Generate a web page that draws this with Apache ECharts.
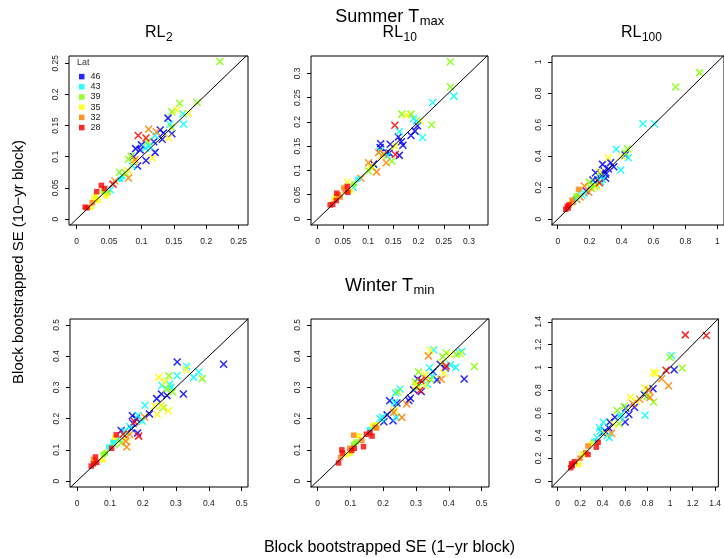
<!DOCTYPE html>
<html><head><meta charset="utf-8">
<script src="https://cdn.jsdelivr.net/npm/echarts@6/dist/echarts.min.js"></script>
<style>html,body{margin:0;padding:0;background:#fff}#c{width:724px;height:558px}</style>
</head><body><div id="c"></div><script>
// ---------------- data ----------------
const latLabels = ['46', '43', '39', '35', '32', '28'];
const latColors = ['#0000FF', '#00FFFF', '#80FF00', '#FFFF00', '#FF8000', '#FF0000'];

const rowTitles = [['Summer T', 'max'], ['Winter T', 'min']];
const panelTitles = [['RL', '2'], ['RL', '10'], ['RL', '100']];
const xTitle = 'Block bootstrapped SE (1\u2212yr block)';
const yTitle = 'Block bootstrapped SE (10\u2212yr block)';

// [x (1-yr block SE), y (10-yr block SE), latitude index]
const p1Cross = [
 [0.221,0.253,2],[0.159,0.186,2],[0.186,0.187,2],[0.147,0.172,2],[0.155,0.175,3],[0.164,0.169,1],
 [0.172,0.170,3],[0.165,0.152,1],[0.141,0.162,0],[0.144,0.152,1],[0.146,0.147,2],[0.142,0.130,3],
 [0.147,0.137,0],[0.134,0.138,0],[0.132,0.128,0],[0.129,0.143,0],[0.111,0.144,4],[0.123,0.140,4],
 [0.121,0.134,1],[0.095,0.134,5],[0.107,0.130,5],[0.119,0.124,0],[0.109,0.124,2],[0.100,0.119,0],
 [0.091,0.113,0],[0.098,0.111,0],[0.106,0.114,1],[0.121,0.107,0],[0.117,0.098,3],[0.107,0.094,0],
 [0.094,0.085,0],[0.088,0.100,0],[0.080,0.096,2],[0.084,0.101,2],[0.089,0.091,3],[0.086,0.085,1],
 [0.066,0.075,2],[0.076,0.073,2],[0.079,0.078,3],[0.080,0.066,4],[0.059,0.061,4],[0.056,0.056,5],
 [0.052,0.047,1],[0.070,0.070,1],[0.112,0.117,1],[0.090,0.095,4]
];
const p1Square = [
 [0.068,0.064,1],[0.038,0.054,5],[0.043,0.049,5],[0.045,0.037,3],[0.041,0.045,2],[0.029,0.037,3],
 [0.031,0.044,5],[0.027,0.032,3],[0.024,0.026,4],[0.016,0.018,5],[0.022,0.019,3],[0.013,0.019,5],
 [0.033,0.030,3],[0.048,0.042,2]
];
const p2Cross = [
 [0.263,0.324,2],[0.263,0.272,2],[0.270,0.253,1],[0.228,0.240,1],[0.167,0.216,2],[0.185,0.216,2],
 [0.176,0.214,3],[0.190,0.207,1],[0.196,0.202,1],[0.203,0.202,3],[0.226,0.194,2],[0.153,0.193,5],
 [0.198,0.192,0],[0.185,0.172,0],[0.193,0.181,0],[0.208,0.168,1],[0.162,0.180,1],[0.160,0.169,0],
 [0.125,0.155,0],[0.144,0.154,0],[0.166,0.159,0],[0.169,0.152,0],[0.124,0.147,0],[0.154,0.150,3],
 [0.137,0.137,0],[0.142,0.136,0],[0.154,0.133,5],[0.162,0.131,0],[0.121,0.137,4],[0.124,0.140,1],
 [0.127,0.130,3],[0.138,0.130,1],[0.136,0.116,4],[0.147,0.119,2],[0.101,0.116,4],[0.105,0.110,3],
 [0.101,0.099,2],[0.111,0.113,0],[0.117,0.097,4],[0.108,0.105,2],[0.086,0.084,4],[0.071,0.065,1],
 [0.059,0.076,3],[0.131,0.134,4]
];
const p2Square = [
 [0.080,0.082,1],[0.072,0.072,2],[0.052,0.064,4],[0.059,0.067,5],[0.065,0.058,3],[0.055,0.058,4],
 [0.038,0.053,5],[0.041,0.050,4],[0.060,0.055,5],[0.033,0.039,3],[0.037,0.038,5],[0.025,0.029,5],
 [0.030,0.030,5],[0.045,0.045,4],[0.035,0.045,3]
];
const p3Cross = [
 [0.889,0.932,2],[0.739,0.841,2],[0.534,0.607,1],[0.606,0.607,1],[0.367,0.444,1],[0.437,0.448,2],
 [0.425,0.420,2],[0.422,0.408,0],[0.442,0.390,1],[0.405,0.400,3],[0.395,0.312,1],[0.317,0.390,3],
 [0.331,0.359,0],[0.351,0.333,0],[0.281,0.348,0],[0.317,0.318,0],[0.291,0.306,0],[0.271,0.285,0],
 [0.300,0.285,0],[0.237,0.295,0],[0.262,0.300,3],[0.281,0.252,1],[0.221,0.248,0],[0.250,0.248,0],
 [0.300,0.260,0],[0.261,0.231,5],[0.268,0.238,1],[0.231,0.211,2],[0.197,0.235,2],[0.245,0.205,3],
 [0.177,0.180,0],[0.167,0.210,4],[0.167,0.165,1],[0.195,0.170,4],[0.140,0.140,4],[0.270,0.268,1],
 [0.240,0.220,1],[0.210,0.195,2],[0.150,0.155,1],[0.120,0.125,4]
];
const p3Square = [
 [0.130,0.189,4],[0.116,0.148,2],[0.110,0.130,1],[0.090,0.121,4],[0.095,0.105,4],[0.070,0.090,5],
 [0.080,0.095,3],[0.060,0.080,5],[0.050,0.062,5],[0.065,0.070,5],[0.100,0.110,1]
];
const p4Cross = [
 [0.445,0.374,0],[0.304,0.381,0],[0.333,0.367,1],[0.330,0.357,3],[0.370,0.349,1],[0.380,0.328,2],
 [0.354,0.332,1],[0.323,0.279,0],[0.304,0.337,1],[0.279,0.337,2],[0.248,0.332,3],[0.281,0.310,1],
 [0.258,0.306,1],[0.268,0.318,3],[0.272,0.295,2],[0.290,0.285,2],[0.273,0.274,0],[0.285,0.300,1],
 [0.256,0.279,0],[0.242,0.264,0],[0.256,0.242,3],[0.262,0.235,2],[0.244,0.213,3],[0.277,0.225,3],
 [0.236,0.240,3],[0.206,0.243,1],[0.220,0.215,0],[0.168,0.209,0],[0.185,0.210,1],[0.198,0.192,1],
 [0.205,0.205,4],[0.180,0.200,0],[0.170,0.185,0],[0.160,0.175,1],[0.175,0.190,5],[0.134,0.162,0],
 [0.165,0.168,0],[0.184,0.154,0],[0.187,0.144,5],[0.145,0.160,1],[0.150,0.140,3],[0.160,0.150,4],
 [0.134,0.122,2],[0.151,0.109,4],[0.140,0.150,5],[0.148,0.128,4],[0.125,0.135,1],[0.112,0.118,2]
];
const p4Square = [
 [0.119,0.148,5],[0.115,0.140,3],[0.110,0.125,1],[0.096,0.109,1],[0.105,0.105,5],[0.086,0.090,2],
 [0.080,0.085,2],[0.078,0.068,3],[0.050,0.069,4],[0.056,0.077,5],[0.055,0.062,4],[0.050,0.055,5],
 [0.043,0.048,5],[0.060,0.060,5]
];
const p5Cross = [
 [0.478,0.367,2],[0.447,0.327,0],[0.440,0.415,1],[0.432,0.410,1],[0.423,0.406,2],[0.437,0.408,3],
 [0.392,0.410,2],[0.405,0.405,3],[0.382,0.398,2],[0.354,0.420,1],[0.343,0.419,3],[0.338,0.401,4],
 [0.421,0.364,1],[0.405,0.372,1],[0.389,0.362,0],[0.392,0.368,5],[0.374,0.374,0],[0.341,0.363,1],
 [0.352,0.350,0],[0.385,0.345,3],[0.364,0.324,0],[0.377,0.326,4],[0.308,0.349,2],[0.328,0.340,3],
 [0.330,0.328,4],[0.335,0.310,1],[0.350,0.335,1],[0.345,0.325,2],[0.305,0.327,0],[0.315,0.322,5],
 [0.298,0.318,2],[0.300,0.308,3],[0.306,0.300,2],[0.316,0.287,0],[0.312,0.290,5],[0.293,0.292,0],
 [0.252,0.295,1],[0.237,0.282,1],[0.245,0.285,2],[0.220,0.257,0],[0.242,0.250,0],[0.235,0.252,1],
 [0.283,0.265,0],[0.272,0.247,4],[0.278,0.258,0],[0.257,0.204,4],[0.240,0.204,1],[0.230,0.193,0],
 [0.202,0.190,0],[0.191,0.200,1],[0.232,0.220,4],[0.236,0.226,3],[0.212,0.212,0],[0.198,0.205,1],
 [0.328,0.305,3],[0.380,0.378,3]
];
const p5Square = [
 [0.180,0.170,4],[0.168,0.178,3],[0.158,0.165,1],[0.166,0.144,5],[0.149,0.150,5],[0.160,0.155,5],
 [0.110,0.147,4],[0.125,0.145,3],[0.140,0.110,5],[0.118,0.125,2],[0.110,0.118,2],[0.098,0.105,4],
 [0.112,0.105,5],[0.104,0.098,5],[0.100,0.090,3],[0.074,0.100,5],[0.076,0.090,5],[0.070,0.075,4],
 [0.064,0.058,5],[0.088,0.085,3],[0.135,0.130,4],[0.180,0.180,3],[0.175,0.172,4]
];
const p6Cross = [
 [1.322,1.281,5],[1.135,1.286,5],[1.013,1.105,1],[0.997,1.090,2],[1.107,0.994,2],[1.036,0.979,0],
 [0.964,0.974,5],[0.854,0.956,3],[0.870,0.945,3],[0.925,0.900,4],[0.986,0.839,4],[0.848,0.812,0],
 [0.777,0.819,3],[0.810,0.800,4],[0.771,0.760,0],[0.821,0.736,4],[0.854,0.696,2],[0.795,0.745,2],
 [0.647,0.737,3],[0.683,0.649,0],[0.670,0.680,4],[0.777,0.579,1],[0.509,0.561,0],[0.529,0.620,2],
 [0.606,0.643,0],[0.592,0.658,2],[0.564,0.585,1],[0.633,0.585,0],[0.600,0.520,0],[0.545,0.503,2],
 [0.463,0.520,0],[0.408,0.517,1],[0.454,0.468,0],[0.372,0.468,1],[0.399,0.424,0],[0.440,0.400,1],
 [0.380,0.440,1],[0.420,0.440,0],[0.480,0.420,4],[0.500,0.500,3],[0.460,0.380,1],[0.700,0.700,3],
 [0.730,0.720,4],[0.560,0.560,1],[0.350,0.380,1],[0.420,0.420,3]
];
const p6Square = [
 [0.270,0.307,4],[0.320,0.350,1],[0.344,0.298,5],[0.360,0.340,5],[0.300,0.330,3],[0.220,0.233,3],
 [0.235,0.240,2],[0.270,0.233,5],[0.250,0.250,4],[0.187,0.146,3],[0.124,0.152,5],[0.116,0.117,5],
 [0.150,0.170,5],[0.200,0.200,4],[0.130,0.135,5]
];

// axis limits and tick values per panel
const p1XRange = [-0.0119, 0.2645], p1YRange = [-0.0096, 0.2617];
const p2XRange = [-0.013, 0.3376],  p2YRange = [-0.0124, 0.3357];
const p3XRange = [-0.036, 1.042],   p3YRange = [-0.038, 1.038];
const p4XRange = [-0.0213, 0.519],  p4YRange = [-0.019, 0.519];
const p5XRange = [-0.020, 0.5226],  p5YRange = [-0.019, 0.519];
const p6XRange = [-0.050, 1.429],   p6YRange = [-0.053, 1.426];
const p1Ticks = [0, 0.05, 0.1, 0.15, 0.2, 0.25];
const p2Ticks = [0, 0.05, 0.1, 0.15, 0.2, 0.25, 0.3];
const p3Ticks = [0, 0.2, 0.4, 0.6, 0.8, 1];
const p4Ticks = [0, 0.1, 0.2, 0.3, 0.4, 0.5];
const p5Ticks = [0, 0.1, 0.2, 0.3, 0.4, 0.5];
const p6Ticks = [0, 0.2, 0.4, 0.6, 0.8, 1, 1.2, 1.4];

// ---------------- layout ----------------
const panels = [
 {cross: p1Cross, square: p1Square, xr: p1XRange, yr: p1YRange, ticks: p1Ticks, box: {left: 69, top: 56, width: 179, height: 169}},
 {cross: p2Cross, square: p2Square, xr: p2XRange, yr: p2YRange, ticks: p2Ticks, box: {left: 311, top: 56, width: 177, height: 169}},
 {cross: p3Cross, square: p3Square, xr: p3XRange, yr: p3YRange, ticks: p3Ticks, box: {left: 552, top: 56, width: 179, height: 169}},
 {cross: p4Cross, square: p4Square, xr: p4XRange, yr: p4YRange, ticks: p4Ticks, box: {left: 70, top: 319, width: 178, height: 168}},
 {cross: p5Cross, square: p5Square, xr: p5XRange, yr: p5YRange, ticks: p5Ticks, box: {left: 311, top: 319, width: 178, height: 168}},
 {cross: p6Cross, square: p6Square, xr: p6XRange, yr: p6YRange, ticks: p6Ticks, box: {left: 552, top: 319, width: 179, height: 168}}
];

const FONT = '"Liberation Sans", Arial, Helvetica, sans-serif';
const crossPath = 'path://M0,0L10,10M10,0L0,10';
const fmt = v => String(parseFloat(Number(v).toFixed(3)));

const measureCtx = document.createElement('canvas').getContext('2d');
function textW(t, size) { measureCtx.font = size + 'px ' + FONT; return measureCtx.measureText(t).width; }
function subText(cx, cy, main, sub, mSize, sSize, dy) {
  const wm = textW(main, mSize), ws = textW(sub, sSize);
  const x0 = cx - (wm + ws) / 2;
  return [
    {type: 'text', x: x0, y: cy, silent: true, style: {text: main, font: mSize + 'px ' + FONT, fill: '#000', align: 'left', verticalAlign: 'middle'}},
    {type: 'text', x: x0 + wm + 0.5, y: cy + dy, silent: true, style: {text: sub, font: sSize + 'px ' + FONT, fill: '#000', align: 'left', verticalAlign: 'middle'}}
  ];
}

const grids = [], xAxes = [], yAxes = [], series = [];
panels.forEach((p, i) => {
  grids.push(Object.assign({show: true, borderColor: '#000', borderWidth: 1, backgroundColor: 'transparent'}, p.box));
  const common = {
    gridIndex: i, type: 'value',
    axisLine: {show: false, onZero: false}, splitLine: {show: false}, minorTick: {show: false},
    axisTick: {show: true, length: 4, inside: false, customValues: p.ticks, lineStyle: {color: '#000', width: 1}},
  };
  xAxes.push(Object.assign({}, common, {min: p.xr[0], max: p.xr[1], position: 'bottom',
    axisLabel: {customValues: p.ticks, formatter: fmt, fontSize: 8.5, color: '#222', margin: 12, fontFamily: FONT}}));
  yAxes.push(Object.assign({}, common, {min: p.yr[0], max: p.yr[1], position: 'left',
    axisLabel: {customValues: p.ticks, formatter: fmt, fontSize: 8.5, color: '#222', margin: 9, rotate: 90, fontFamily: FONT}}));
  latLabels.forEach((lat, k) => {
    const cr = p.cross.filter(d => d[2] === k).map(d => [d[0], d[1]]);
    if (cr.length) series.push({
      type: 'scatter', name: lat, xAxisIndex: i, yAxisIndex: i, data: cr,
      symbol: crossPath, symbolSize: 7, silent: true, z: 2,
      itemStyle: {color: latColors[k], borderColor: latColors[k], borderWidth: 1.5, opacity: 0.85},
      emphasis: {disabled: true}
    });
  });
  latLabels.forEach((lat, k) => {
    const sq = p.square.filter(d => d[2] === k).map(d => [d[0], d[1]]);
    if (sq.length) series.push({
      type: 'scatter', name: lat, xAxisIndex: i, yAxisIndex: i, data: sq,
      symbol: 'rect', symbolSize: 5.5, silent: true, z: 3,
      itemStyle: {color: latColors[k]},
      emphasis: {disabled: true}
    });
  });
  const lo = Math.min(p.xr[0], p.yr[0]) - 0.1, hi = Math.max(p.xr[1], p.yr[1]) + 0.1;
  series.push({
    type: 'line', xAxisIndex: i, yAxisIndex: i, data: [[lo, lo], [hi, hi]], clip: true,
    symbol: 'none', silent: true, z: 5, lineStyle: {color: '#000', width: 1}, emphasis: {disabled: true}
  });
});

const graphics = [].concat(
  subText(389.5, 17.2, rowTitles[0][0], rowTitles[0][1], 18, 13, 4.4),
  subText(389.5, 286.3, rowTitles[1][0], rowTitles[1][1], 18, 13, 4.0),
  subText(158.5, 32.5, panelTitles[0][0], panelTitles[0][1], 16, 12, 5),
  subText(399.5, 32.5, panelTitles[1][0], panelTitles[1][1], 16, 12, 5),
  subText(641.2, 32.5, panelTitles[2][0], panelTitles[2][1], 16, 12, 5),
  [
    {type: 'text', x: 389.5, y: 548, silent: true, style: {text: xTitle, font: '16px ' + FONT, fill: '#000', align: 'center', verticalAlign: 'middle'}},
    {type: 'text', x: 19, y: 262, rotation: Math.PI / 2, silent: true, style: {text: yTitle, font: '15px ' + FONT, fill: '#000', align: 'center', verticalAlign: 'middle'}},
    {type: 'text', x: 77, y: 63, silent: true, style: {text: 'Lat', font: '9px ' + FONT, fill: '#333', align: 'left', verticalAlign: 'middle'}}
  ]
);

const chart = echarts.init(document.getElementById('c'), null, {renderer: 'canvas'});
chart.setOption({
  animation: false,
  backgroundColor: '#fff',
  grid: grids, xAxis: xAxes, yAxis: yAxes, series: series,
  legend: {
    data: latLabels.map(n => ({name: n, icon: 'rect'})),
    orient: 'vertical', left: 74, top: 67, itemWidth: 5.5, itemHeight: 5.5, itemGap: 1,
    selectedMode: false, itemStyle: {borderWidth: 0},
    textStyle: {fontSize: 9, color: '#222', fontFamily: FONT, lineHeight: 9.2, padding: [0, 0, 0, 1]}
  },
  graphic: graphics
});
</script></body></html>
